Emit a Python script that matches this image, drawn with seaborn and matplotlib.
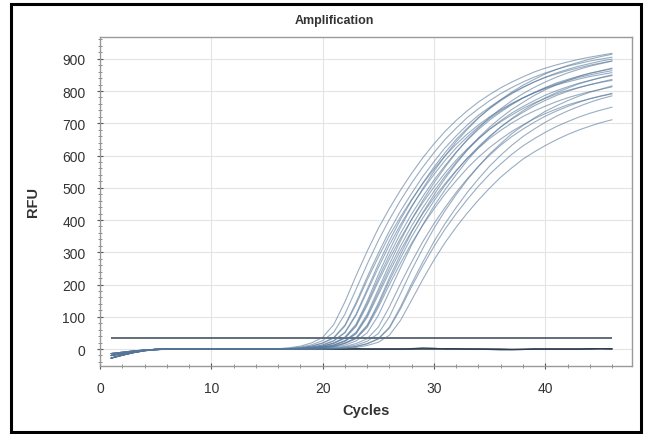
import pandas as pd
import seaborn as sns
import matplotlib.pyplot as plt
from matplotlib.ticker import MultipleLocator
from matplotlib.patches import Rectangle

# cycle numbers and threshold line
cycles = list(range(1, 47))
threshold_rfu = 35

# RFU per cycle, one list per well
well_a01 = [-28, -19, -11, -5, -2, 0, 0, 0, 0, 0, 0, 0, 0, 0, 0,
            1, 4, 9, 19, 36, 76, 146, 227, 303, 374, 436, 493, 545, 593, 636, 675,
            709, 739, 766, 789, 810, 828, 844, 859, 871, 881, 890, 898, 905, 911, 917]
well_a02 = [-20, -14, -8, -4, -1, 0, 0, 0, 0, 0, 0, 0, 0, 0, 0,
            1, 2, 6, 13, 26, 52, 108, 185, 263, 336, 402, 461, 515, 564, 609, 650,
            685, 718, 745, 770, 792, 811, 828, 843, 856, 867, 877, 885, 893, 899, 905]
well_a03 = [-14, -10, -6, -3, -1, 0, 0, 0, 0, 0, 0, 0, 0, 0, 0, 0,
            1, 4, 9, 19, 36, 74, 144, 223, 297, 366, 428, 483, 535, 581, 624,
            661, 695, 725, 750, 773, 794, 812, 828, 842, 853, 863, 872, 880, 887, 893]
well_a04 = [-28, -19, -11, -5, -2, 0, 0, 0, 0, 0, 0, 0, 0, 0, 0, 0,
            1, 4, 9, 18, 34, 71, 138, 214, 285, 352, 410, 464, 513, 558, 599,
            635, 667, 695, 720, 742, 762, 779, 794, 808, 819, 828, 837, 845, 851, 857]
well_a05 = [-20, -14, -8, -4, -1, 0, 0, 0, 0, 0, 0, 0, 0, 0, 0, 0,
            1, 2, 6, 13, 26, 52, 108, 185, 263, 336, 402, 461, 515, 564, 609,
            650, 685, 718, 745, 770, 792, 811, 828, 843, 856, 867, 877, 885, 893, 899]
well_a06 = [-14, -10, -6, -3, -1, 0, 0, 0, 0, 0, 0, 0, 0, 0, 0, 0,
            1, 2, 6, 12, 25, 50, 104, 178, 252, 323, 386, 443, 494, 541, 585,
            624, 658, 689, 715, 739, 760, 779, 795, 809, 822, 832, 842, 850, 857, 863]
well_b01 = [-28, -19, -11, -5, -2, 0, 0, 0, 0, 0, 0, 0, 0, 0, 0, 0, 0,
            1, 4, 9, 19, 37, 77, 148, 230, 306, 377, 441, 498, 551, 599,
            643, 681, 716, 747, 773, 797, 818, 836, 853, 867, 879, 889, 899, 907, 914]
well_b02 = [-20, -14, -8, -4, -1, 0, 0, 0, 0, 0, 0, 0, 0, 0, 0, 0, 0,
            1, 4, 9, 18, 35, 73, 141, 218, 291, 359, 419, 473, 524, 569,
            611, 648, 681, 710, 735, 758, 778, 795, 811, 825, 836, 846, 855, 862, 869]
well_b03 = [-14, -10, -6, -3, -1, 0, 0, 0, 0, 0, 0, 0, 0, 0, 0, 0, 0,
            1, 4, 8, 18, 33, 70, 135, 209, 279, 344, 402, 454, 502, 546,
            586, 621, 653, 681, 705, 726, 746, 763, 777, 791, 802, 811, 819, 827, 833]
well_b04 = [-28, -19, -11, -5, -2, 0, 0, 0, 0, 0, 0, 0, 0, 0, 0, 0, 0,
            1, 2, 6, 13, 26, 52, 108, 185, 263, 336, 402, 461, 515, 564,
            609, 650, 685, 718, 745, 770, 792, 811, 828, 843, 856, 867, 877, 885, 893]
well_b05 = [-20, -14, -8, -4, -1, 0, 0, 0, 0, 0, 0, 0, 0, 0, 0, 0, 0,
            1, 2, 6, 12, 25, 49, 103, 176, 250, 319, 382, 438, 489, 536,
            579, 618, 651, 682, 708, 732, 752, 770, 787, 801, 813, 824, 833, 841, 848]
well_b06 = [-14, -10, -6, -3, -1, 0, 0, 0, 0, 0, 0, 0, 0, 0, 0, 0, 0,
            1, 2, 5, 12, 24, 47, 98, 168, 239, 306, 366, 420, 469, 513,
            554, 592, 623, 653, 678, 701, 721, 738, 753, 767, 779, 789, 798, 805, 813]
well_c01 = [-28, -19, -11, -5, -2, 0, 0, 0, 0, 0, 0, 0, 0, 0, 0, 0, 0, 0,
            1, 4, 9, 19, 35, 74, 142, 221, 294, 363, 423, 478, 529, 575,
            617, 655, 688, 717, 743, 765, 786, 804, 819, 833, 845, 855, 863, 871]
well_c02 = [-20, -14, -8, -4, -1, 0, 0, 0, 0, 0, 0, 0, 0, 0, 0, 0, 0, 0,
            1, 4, 8, 18, 34, 71, 136, 212, 282, 348, 406, 459, 508, 552,
            592, 628, 660, 688, 713, 734, 754, 771, 786, 799, 810, 820, 828, 836]
well_c03 = [-14, -10, -6, -3, -1, 0, 0, 0, 0, 0, 0, 0, 0, 0, 0, 0, 0, 0,
            1, 4, 8, 17, 32, 67, 129, 200, 267, 329, 384, 434, 481, 522,
            561, 595, 625, 651, 675, 695, 714, 730, 744, 757, 767, 776, 784, 791]
well_c04 = [-28, -19, -11, -5, -2, 0, 0, 0, 0, 0, 0, 0, 0, 0, 0, 0, 0, 0,
            1, 2, 6, 12, 25, 50, 104, 178, 252, 323, 386, 443, 494, 541,
            585, 624, 658, 689, 715, 739, 760, 779, 795, 809, 822, 832, 842, 850]
well_c05 = [-20, -14, -8, -4, -1, 0, 0, 0, 0, 0, 0, 0, 0, 0, 0, 0, 0, 0, 0,
            1, 4, 8, 17, 32, 68, 131, 203, 270, 333, 389, 439, 486, 528,
            567, 601, 632, 659, 682, 703, 722, 738, 752, 765, 776, 785, 793]
well_c06 = [-14, -10, -6, -3, -1, 0, 0, 0, 0, 0, 0, 0, 0, 0, 0, 0, 0, 0, 0,
            1, 2, 6, 12, 24, 48, 100, 172, 245, 312, 374, 429, 479, 525,
            566, 605, 637, 668, 693, 716, 737, 754, 770, 784, 796, 806, 816]
well_d01 = [-28, -19, -11, -5, -2, 0, 0, 0, 0, 0, 0, 0, 0, 0, 0, 0, 0, 0, 0, 0,
            1, 3, 8, 16, 31, 65, 125, 194, 258, 318, 372, 420, 464,
            505, 542, 574, 604, 630, 652, 672, 690, 705, 719, 731, 741, 750]
well_d02 = [-20, -14, -8, -4, -1, 0, 0, 0, 0, 0, 0, 0, 0, 0, 0, 0, 0, 0, 0, 0,
            1, 2, 5, 11, 21, 43, 89, 152, 216, 276, 330, 378, 422,
            462, 499, 533, 562, 589, 611, 631, 649, 665, 679, 691, 702, 711]
well_d03 = [-14, -10, -6, -3, -1, 0, 0, 0, 0, 0, 0, 0, 0, 0, 0, 0, 0, 0, 0, 0,
            1, 4, 8, 17, 32, 68, 131, 203, 270, 333, 389, 439, 486,
            528, 567, 601, 632, 659, 682, 703, 722, 738, 752, 765, 776, 785]

# no template controls
ntc_1 = [-28, -19, -11, -5, -2, 0, 0, 0, 1, 0, 0, 0, 1, 0, 0, 0, 0, 0, 1, 0, 0, 0, 0,
         0, 0, 0, 0, 1, 3, 2, 0, 0, 0, 0, -1, -2, -2, -1, 0, 0, 0, 0, 0, 1, 1, 1]
ntc_2 = [-20, -14, -8, -4, -1, 0, 0, 0, 0, 0, 1, 0, 0, 0, 0, 0, 0, 0, 0, 0, 0, 0, 1,
         0, 0, 0, 0, 0, 0, 0, 1, 1, 0, 0, 0, 0, -1, -1, 0, 0, 0, 0, 0, 0, 1, 0]

samples = {
    "A01": well_a01, "A02": well_a02, "A03": well_a03, "A04": well_a04,
    "A05": well_a05, "A06": well_a06, "B01": well_b01, "B02": well_b02,
    "B03": well_b03, "B04": well_b04, "B05": well_b05, "B06": well_b06,
    "C01": well_c01, "C02": well_c02, "C03": well_c03, "C04": well_c04,
    "C05": well_c05, "C06": well_c06, "D01": well_d01, "D02": well_d02,
    "D03": well_d03,
}
controls = {"NTC1": ntc_1, "NTC2": ntc_2}


def to_long(wells):
    rows = []
    for name, vals in wells.items():
        for c, v in zip(cycles, vals):
            rows.append((name, c, v))
    return pd.DataFrame(rows, columns=["Well", "Cycle", "RFU"])


df = to_long(samples)
df_ntc = to_long(controls)

sns.set_theme(style="white")
plt.rcParams["font.family"] = ["Liberation Sans", "DejaVu Sans"]

fig = plt.figure(figsize=(6.45, 4.35), dpi=100)
# plot box: x 100..632 px, y 38..367 px
ax = fig.add_axes([0.155, 0.156, 0.825, 0.757])

ax.hlines(threshold_rfu, cycles[0], cycles[-1], color="#56616d", lw=1.3, zorder=3)
sns.lineplot(data=df_ntc, x="Cycle", y="RFU", units="Well", estimator=None,
             color="#2c3e50", lw=1.0, ax=ax, legend=False, zorder=4)
sns.lineplot(data=df, x="Cycle", y="RFU", units="Well", estimator=None,
             color="#56779a", lw=0.8, alpha=0.6, ax=ax, legend=False, zorder=5)

ax.set_xlim(0, 47.8)
ax.set_ylim(-53, 968)
ax.xaxis.set_major_locator(MultipleLocator(10))
ax.xaxis.set_minor_locator(MultipleLocator(2))
ax.yaxis.set_major_locator(MultipleLocator(100))
ax.yaxis.set_minor_locator(MultipleLocator(20))
ax.tick_params(axis="both", which="major", direction="inout", length=5, width=0.8,
               color="#555555", labelsize=10, labelcolor="#333333", pad=8)
ax.tick_params(axis="both", which="minor", direction="inout", length=3, width=0.6,
               color="#777777")
ax.tick_params(axis="x", which="both", bottom=True)
ax.tick_params(axis="y", which="both", left=True)
ax.grid(True, which="major", color="#e4e4e4", lw=0.8)
ax.set_axisbelow(True)
for side in ["top", "right", "bottom", "left"]:
    ax.spines[side].set_color("#9a9a9a")
    ax.spines[side].set_linewidth(1.0)

ax.set_xlabel("Cycles", fontsize=10.5, fontweight="bold", color="#333333", labelpad=6)
ax.set_ylabel("RFU", fontsize=10.5, fontweight="bold", color="#333333", labelpad=16)
fig.text(0.518, 0.951, "Amplification", ha="center", va="center", fontsize=9,
         fontweight="bold", color="#333333")

# black frame round the whole picture
fig.patches.append(Rectangle((0.017, 0.005), 0.977, 0.984, transform=fig.transFigure,
                             fill=False, edgecolor="black", lw=2.2))

fig.savefig("out.png", dpi=100)
